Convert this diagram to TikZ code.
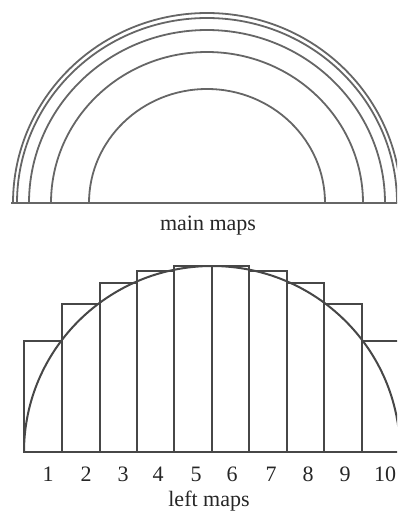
\documentclass[tikz,border=0pt]{standalone}
\usepackage{fontspec}
\setmainfont{Liberation Serif}
\begin{document}
\begin{tikzpicture}[x=1pt,y=-1pt,
  arcline/.style={draw=black!60,line width=1.8pt},
  boxline/.style={draw=black!72,line width=2pt},
  lbl/.style={font=\fontsize{22}{25}\selectfont,inner sep=0pt,text=black!85}]
\useasboundingbox (0,0) rectangle (397,517);
\clip (0,0) rectangle (397,517);
% top: main maps
\coordinate (c1) at (207,203);
\foreach \rx/\ry in {194/190,190/185,178/173,156/151,118/114}{
  \draw[arcline] ([xshift=-\rx pt]c1) arc[start angle=180,end angle=0,x radius=\rx pt,y radius=\ry pt];
}
\coordinate (b1l) at (11,203);
\coordinate (b1r) at (400,203);
\draw[arcline] (b1l) -- (b1r);
\node[lbl] (main) at (208,226) {main maps};
% bottom: left maps
\foreach \l/\r/\t in {24/62/341,62/100/304,100/137/283,137/174/271,174/212/266,212/249/266,249/287/271,287/324/283,324/362/304,362/400/341}{
  \draw[boxline] (\l,452) rectangle (\r,\t);
}
\coordinate (c2) at (212,452);
\draw[boxline] (24,452) arc[start angle=180,end angle=0,x radius=188pt,y radius=186pt];
\foreach \n/\x in {1/48,2/86,3/123,4/158,5/196,6/232,7/271,8/308,9/345,10/385}{
  \node[lbl] (n\n) at (\x,474) {\n};
}
\node[lbl] (left) at (209,501) {left maps};
\end{tikzpicture}
\end{document}
